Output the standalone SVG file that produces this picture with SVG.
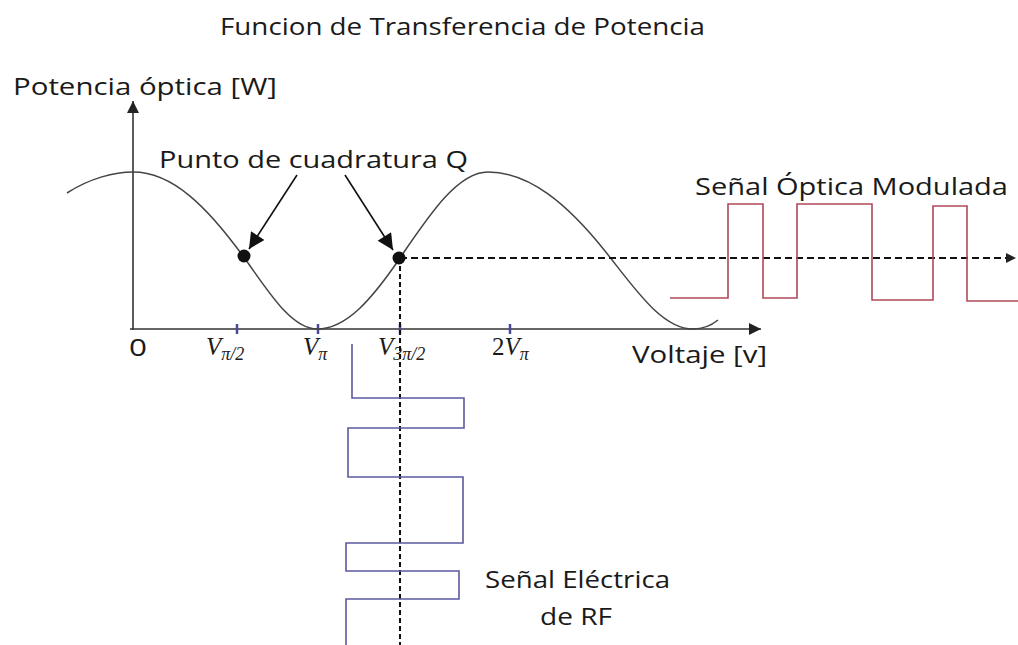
<svg xmlns="http://www.w3.org/2000/svg" width="1018" height="645" viewBox="0 0 1018 645">
<style>
text{font-family:"Open Sans","Noto Sans","Liberation Sans",sans-serif;fill:#1a1a1a;font-size:24px}
.math{font-family:"Liberation Serif","DejaVu Serif",serif;font-style:italic;font-size:25px}
.sub{font-size:18px}
.axis{stroke:#333;stroke-width:1.6;fill:none}
.tick{stroke:#4a4a9a;stroke-width:2.5}
.curve{stroke:#444;stroke-width:1.5;fill:none}
.dash{stroke:#111;stroke-width:2;fill:none}
.ptr{stroke:#111;stroke-width:1.6;fill:none}
</style>
<defs>
<marker id="tri" viewBox="0 0 10 10" refX="10" refY="5" markerWidth="10" markerHeight="10" markerUnits="userSpaceOnUse" orient="auto"><path d="M0,0 L10,5 L0,10 z" fill="#222"/></marker>
<marker id="big" viewBox="0 0 10 10" refX="10" refY="5" markerWidth="18" markerHeight="16" markerUnits="userSpaceOnUse" orient="auto"><path d="M0,0 L10,5 L0,10 z" fill="#111"/></marker>
<marker id="ax" viewBox="0 0 10 10" refX="10" refY="5" markerWidth="14" markerHeight="12" markerUnits="userSpaceOnUse" orient="auto"><path d="M0,0 L10,5 L0,10 z" fill="#222"/></marker>
</defs>
<rect width="1018" height="645" fill="#fff"/>
<g id="title"><text x="220" y="35" font-size="23" textLength="485" lengthAdjust="spacingAndGlyphs">Funcion de Transferencia de Potencia</text></g>
<g id="axes">
<path class="axis" d="M133,330 L133,101" marker-end="url(#ax)"/>
<path class="axis" d="M130,329 L761,329" marker-end="url(#ax)"/>
<text x="13" y="95" textLength="264" lengthAdjust="spacingAndGlyphs">Potencia óptica [W]</text>
<text x="632" y="363" textLength="135" lengthAdjust="spacingAndGlyphs">Voltaje [v]</text>
</g>
<g id="ticks">
<line class="tick" x1="237" y1="324" x2="237" y2="334"/>
<line class="tick" x1="318" y1="324" x2="318" y2="334"/>
<line class="tick" x1="400" y1="324" x2="400" y2="334"/>
<line class="tick" x1="510" y1="324" x2="510" y2="334"/>
<text x="129" y="356" textLength="18" lengthAdjust="spacingAndGlyphs">0</text>
<text class="math" x="206" y="355">V<tspan class="sub" dy="5">π/2</tspan></text>
<text class="math" x="303" y="355">V<tspan class="sub" dy="5">π</tspan></text>
<text class="math" x="378" y="355">V<tspan class="sub" dy="5">3π/2</tspan></text>
<text class="math" x="492" y="355"><tspan font-style="normal">2</tspan>V<tspan class="sub" dy="5">π</tspan></text>
</g>
<g id="curve">
<path class="curve" d="M67,193 C90,178 115,172 133,172 C172.6,172 207.1,206.8 243,256 C267.1,289 290.4,329 317,329 C346.9,329 372.9,297.8 400,258 C429.3,214.9 457.6,172 488,172 C529.4,172 567.5,204.1 605,251 C633.7,286.9 661.3,329 693,329 C703,329 712,325 718,320"/>
</g>
<g id="connectors">
<path class="dash" d="M400,258 L1016,258" stroke-dasharray="7,4" marker-end="url(#tri)"/>
<path class="dash" d="M400,258 L400,645" stroke-dasharray="5,3"/>
<path class="ptr" d="M297,175 L249,249" marker-end="url(#big)"/>
<path class="ptr" d="M345,175 L393,250" marker-end="url(#big)"/>
</g>
<g id="quadrature">
<circle cx="244" cy="256" r="6.5" fill="#111"/>
<circle cx="399" cy="258" r="6.5" fill="#111"/>
<text x="159" y="168" textLength="309" lengthAdjust="spacingAndGlyphs">Punto de cuadratura Q</text>
</g>
<g id="optical">
<path d="M670,298 L728,298 L728,204 L763,204 L763,298 L797,298 L797,204 L872,204 L872,300 L933,300 L933,206 L967,206 L967,301 L1018,301" fill="none" stroke="#b0485a" stroke-width="1.6"/>
<text x="695" y="195" textLength="313" lengthAdjust="spacingAndGlyphs">Señal Óptica Modulada</text>
</g>
<g id="electrical">
<path d="M352,344 L352,398 L464,398 L464,428 L348,428 L348,477 L463,477 L463,543 L346,543 L346,571 L459,571 L459,599 L346,599 L346,645" fill="none" stroke="#5a5a9e" stroke-width="1.6"/>
<text x="485" y="588" textLength="185" lengthAdjust="spacingAndGlyphs">Señal Eléctrica</text>
<text x="540" y="625" textLength="72" lengthAdjust="spacingAndGlyphs">de RF</text>
</g>
</svg>
